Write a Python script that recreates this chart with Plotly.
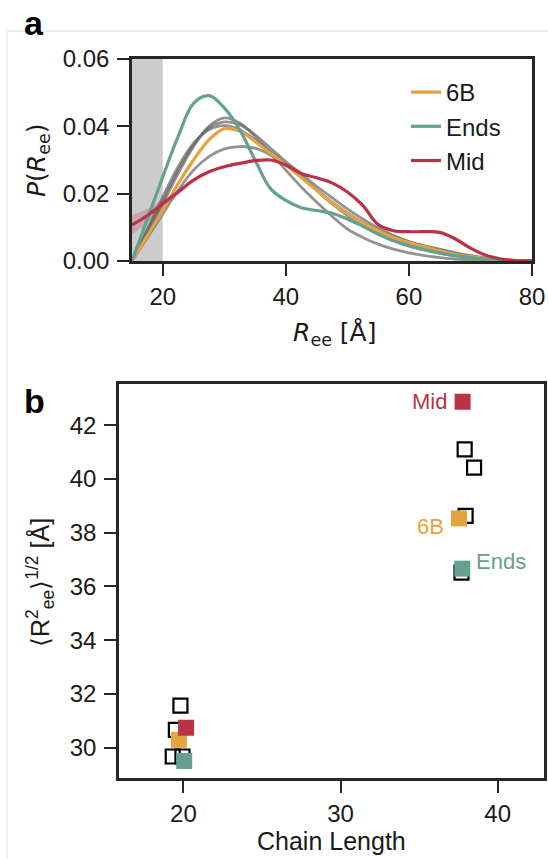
import plotly.graph_objects as go

W, H = 548, 859

# ---------------- Panel a data ----------------
r_ee = [15, 17.5, 20, 22.5, 25, 27.5, 30, 32.5, 35, 37.5, 40, 42.5, 45, 47.5, 50,
        52.5, 55, 57.5, 60, 62.5, 65, 67.5, 70, 72.5, 75, 77.5, 80]

p_6b = [0, 0.0075, 0.015, 0.023, 0.030, 0.036, 0.0393, 0.0385, 0.0355, 0.032, 0.0285,
        0.0248, 0.021, 0.0172, 0.014, 0.0113, 0.009, 0.007, 0.0055, 0.0042, 0.003,
        0.002, 0.0013, 0.0008, 0.0004, 0.0001, 0]
p_ends = [0, 0.0125, 0.025, 0.037, 0.0468, 0.0491, 0.0455, 0.039, 0.030, 0.0215, 0.018,
          0.0158, 0.015, 0.0142, 0.0125, 0.0103, 0.008, 0.006, 0.0046, 0.0034, 0.0024,
          0.0016, 0.001, 0.0006, 0.0003, 0.0001, 0]
p_mid = [0.0107, 0.0135, 0.017, 0.0205, 0.024, 0.0265, 0.028, 0.029, 0.0298, 0.030,
         0.0285, 0.026, 0.0247, 0.0232, 0.0205, 0.0165, 0.0108, 0.0090, 0.0087, 0.0087,
         0.0085, 0.0066, 0.0038, 0.0017, 0.0006, 0.0001, 0]
p_mid_err = [0.003, 0.002, 0.0012, 0.0008, 0.0006, 0.0005, 0.0004, 0.0003, 0.0003, 0.0003,
             0.0003, 0.0003, 0.0003, 0.0003, 0.0003, 0.0003, 0.0003, 0.0003, 0.0003, 0.0003,
             0.0003, 0.0003, 0.0002, 0.0002, 0.0001, 0.0001, 0]

p_gray = [
    [0, 0.0085, 0.017, 0.026, 0.034, 0.040, 0.0425, 0.041, 0.037, 0.032, 0.027, 0.022,
     0.0175, 0.0133, 0.0095, 0.007, 0.005, 0.0035, 0.0024, 0.0016, 0.001, 0.0006, 0.0003,
     0.0001, 0, 0, 0],
    [0, 0.009, 0.018, 0.027, 0.0345, 0.0395, 0.0413, 0.0405, 0.0375, 0.0335, 0.0295,
     0.0258, 0.0222, 0.0188, 0.0155, 0.0125, 0.0098, 0.0076, 0.0058, 0.0044, 0.0033,
     0.0023, 0.0015, 0.0009, 0.0004, 0.0001, 0],
    [0, 0.0095, 0.019, 0.028, 0.035, 0.039, 0.0402, 0.039, 0.036, 0.0325, 0.0288, 0.025,
     0.0212, 0.0175, 0.0143, 0.0115, 0.0092, 0.0073, 0.0057, 0.0045, 0.0035, 0.0025,
     0.0016, 0.0009, 0.0004, 0.0001, 0],
    [0, 0.007, 0.014, 0.021, 0.027, 0.031, 0.0333, 0.034, 0.0335, 0.0315, 0.0285, 0.025,
     0.021, 0.017, 0.0135, 0.0105, 0.008, 0.006, 0.0044, 0.0032, 0.0023, 0.0016, 0.001,
     0.0006, 0.0003, 0.0001, 0],
]
excluded_band = [15, 20]

# ---------------- Panel b data ----------------
ref_len = [19.81, 19.52, 19.32, 19.94, 37.9, 38.5, 37.96, 37.7]
ref_rms = [31.56, 30.66, 29.67, 29.67, 41.1, 40.42, 38.62, 36.51]

series = ["6B", "Ends", "Mid"]
len_6b, rms_6b = [19.71, 37.54], [30.29, 38.53]
len_ends, rms_ends = [20.05, 37.75], [29.50, 36.66]
len_mid, rms_mid = [20.17, 37.77], [30.74, 42.87]

C_6B = "#E3A33F"
C_ENDS = "#65A190"
C_MID = "#B83348"
FRAME = "#262626"
FONT = "Liberation Sans, Arial, sans-serif"
MATH = "DejaVu Sans, sans-serif"

fig = go.Figure()

# gray reference curves
for g in p_gray:
    fig.add_trace(go.Scatter(x=r_ee, y=g, mode="lines",
                             line=dict(color="rgba(105,105,105,0.72)", width=2.8, shape="spline"),
                             showlegend=False, hoverinfo="skip", xaxis="x", yaxis="y"))

# Mid error band
up = [m + e for m, e in zip(p_mid, p_mid_err)]
lo = [m - e for m, e in zip(p_mid, p_mid_err)]
fig.add_trace(go.Scatter(x=r_ee + r_ee[::-1], y=up + lo[::-1], fill="toself", mode="lines",
                         line=dict(width=0, shape="spline"), fillcolor="rgba(184,51,72,0.25)",
                         showlegend=False, hoverinfo="skip", xaxis="x", yaxis="y"))

for name, ys, col in [("6B", p_6b, C_6B), ("Ends", p_ends, C_ENDS), ("Mid", p_mid, C_MID)]:
    fig.add_trace(go.Scatter(x=r_ee, y=ys, mode="lines", name=name, legendgroup=name,
                             line=dict(color=col, width=3.2, shape="spline"), xaxis="x", yaxis="y"))

# panel b
fig.add_trace(go.Scatter(x=ref_len, y=ref_rms, mode="markers", showlegend=False,
                         marker=dict(symbol="square-open", size=14, color="black", line=dict(width=2.2, color="black")),
                         xaxis="x2", yaxis="y2"))
for name, xs, ys, col in [("6B", len_6b, rms_6b, C_6B), ("Ends", len_ends, rms_ends, C_ENDS), ("Mid", len_mid, rms_mid, C_MID)]:
    fig.add_trace(go.Scatter(x=xs, y=ys, mode="markers", showlegend=False,
                             marker=dict(symbol="square", size=16, color=col, line=dict(width=0)),
                             xaxis="x2", yaxis="y2"))

axis_common = dict(showline=True, mirror=True, linecolor=FRAME, linewidth=2.5, ticks="outside",
                   ticklen=12, tickwidth=2.2, tickcolor=FRAME, showgrid=False, zeroline=False,
                   tickfont=dict(family=FONT, size=24, color="#1a1a1a"), automargin=False)

fig.update_layout(
    width=W, height=H, margin=dict(l=0, r=0, t=0, b=0),
    paper_bgcolor="white", plot_bgcolor="white",
    xaxis=dict(domain=[132 / W, 532 / W], range=[15, 80], tickvals=[20, 40, 60, 80], anchor="y", **axis_common),
    yaxis=dict(domain=[1 - 261 / H, 1 - 59 / H], range=[0, 0.06], tickvals=[0, 0.02, 0.04, 0.06],
               tickformat=".2f", anchor="x", ticklabelstandoff=3, **axis_common),
    xaxis2=dict(domain=[119 / W, 544 / W], range=[15.9, 42.95], tickvals=[20, 30, 40], anchor="y2", **axis_common),
    yaxis2=dict(domain=[1 - 778 / H, 1 - 384 / H], range=[28.87, 43.53], tickvals=[30, 32, 34, 36, 38, 40, 42],
                anchor="x2", ticklabelstandoff=3, **axis_common),
    legend=dict(x=406 / W, y=1 - 70 / H, xanchor="left", yanchor="top", bgcolor="rgba(0,0,0,0)",
                font=dict(family=FONT, size=24, color="#1a1a1a"), tracegroupgap=5, traceorder="normal"),
    showlegend=True,
)

fig.add_shape(type="rect", xref="x", yref="y domain", x0=excluded_band[0], x1=excluded_band[1], y0=0, y1=1,
              fillcolor="#cccccc", line=dict(width=0), layer="below")
# faint outer border of the figure
fig.add_shape(type="line", xref="paper", yref="paper", x0=7 / W, x1=1, y0=1 - 31 / H, y1=1 - 31 / H,
              line=dict(color="#d9d9d9", width=1))
fig.add_shape(type="line", xref="paper", yref="paper", x0=7 / W, x1=7 / W, y0=0, y1=1 - 31 / H,
              line=dict(color="#e6e6e6", width=1))

ann = []
ann.append(dict(text="<b>a</b>", x=22 / W, y=1 - 23 / H, xref="paper", yref="paper", xanchor="left", yanchor="middle",
                showarrow=False, font=dict(family=FONT, size=34, color="black")))
ann.append(dict(text="<b>b</b>", x=22 / W, y=1 - 401 / H, xref="paper", yref="paper", xanchor="left", yanchor="middle",
                showarrow=False, font=dict(family=FONT, size=34, color="black")))
ann.append(dict(text="<i>P</i>(<i>R</i><sub>ee</sub>)", x=38 / W, y=1 - 160 / H, xref="paper", yref="paper",
                textangle=-90, xanchor="center", yanchor="middle", showarrow=False,
                font=dict(family=MATH, size=25, color="#1a1a1a")))
ann.append(dict(text="<i>R</i><sub>ee</sub> [Å]", x=334 / W, y=1 - 334 / H, xref="paper", yref="paper",
                xanchor="center", yanchor="middle", showarrow=False, font=dict(family=MATH, size=25, color="#1a1a1a")))
ann.append(dict(text="⟨R<sup>2</sup><sub>ee</sub>⟩<sup>1/2</sup> [Å]", x=40 / W, y=1 - 583 / H, xref="paper", yref="paper",
                textangle=-90, xanchor="center", yanchor="middle", showarrow=False,
                font=dict(family=FONT, size=25, color="#1a1a1a")))
ann.append(dict(text="Chain Length", x=331 / W, y=1 - 841 / H, xref="paper", yref="paper",
                xanchor="center", yanchor="middle", showarrow=False, font=dict(family=FONT, size=25, color="#1a1a1a")))

label_pos = {"Mid": (len_mid[1] - 0.85, rms_mid[1], "right", C_MID),
             "6B": (len_6b[1] - 0.85, rms_6b[1] - 0.3, "right", C_6B),
             "Ends": (len_ends[1] + 0.75, rms_ends[1] + 0.25, "left", C_ENDS)}
for s in series:
    x, y, anc, col = label_pos[s]
    ann.append(dict(text=s, x=x, y=y, xref="x2", yref="y2", xanchor=anc, yanchor="middle", showarrow=False,
                    font=dict(family=FONT, size=22, color=col)))
fig.update_layout(annotations=ann)

fig.write_html("out.html")
